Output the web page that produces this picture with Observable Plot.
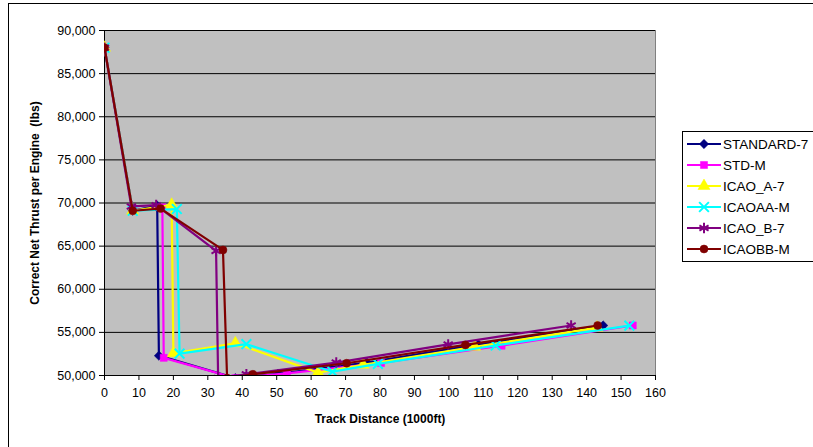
<!DOCTYPE html>
<html>
<head>
<meta charset="utf-8">
<script src="https://cdn.jsdelivr.net/npm/d3@7"></script>
<script src="https://cdn.jsdelivr.net/npm/@observablehq/plot@0.6"></script>
<style>
  html, body { margin: 0; padding: 0; background: #fff; }
  #wrap { position: relative; width: 813px; height: 447px; overflow: hidden; font-family: "Liberation Sans", Arial, sans-serif; }
  #border { position: absolute; left: 8px; top: 3px; width: 900px; height: 500px; border: 1.5px solid #000; box-sizing: border-box; pointer-events: none; }
  #legend { position: absolute; left: 682px; top: 131px; width: 140px; height: 131px; border: 1px solid #000; background: #fff; box-sizing: border-box; }
  .entry { position: absolute; left: 4px; height: 20px; display: flex; align-items: center; font-size: 13.5px; color: #000; white-space: nowrap; }
  .entry svg { margin-right: 2px; }
</style>
</head>
<body>
<div id="wrap">
  <div id="chart"></div>
  <div id="border"></div>
  <div id="legend"></div>
</div>
<script>
// ---- Data (track distance in 1000 ft, thrust in lbs) ----
const seriesNames = ["STANDARD-7", "STD-M", "ICAO_A-7", "ICAOAA-M", "ICAO_B-7", "ICAOBB-M"];

const standard7Dist   = [0, 8.2, 15.3, 15.8, 38, 50.4, 76.2, 108.6, 144.8];
const standard7Thrust = [88000, 69100, 69700, 52300, 49700, 50200, 51500, 53600, 55800];

const stdMDist   = [0, 8.2, 16.8, 17.2, 38, 53, 80.3, 115.3, 153.4];
const stdMThrust = [88000, 69100, 69500, 52050, 49700, 50250, 51450, 53450, 55800];

const icaoA7Dist   = [0, 8.2, 19.5, 20, 38, 62, 75.1, 107.5, 143];
const icaoA7Thrust = [88000, 69100, 69800, 52580, 53740, 50330, 51250, 53330, 55550];

const icaoAAMDist   = [0, 8.2, 21, 21.8, 41.2, 66.2, 79.4, 113.6, 152.4];
const icaoAAMThrust = [88000, 69100, 69300, 52530, 53630, 50440, 51350, 53480, 55780];

const icaoB7Dist   = [0, 7.8, 15, 32.4, 33, 41.2, 67.3, 99.8, 135.5];
const icaoB7Thrust = [88000, 69600, 69750, 64450, 49700, 50140, 51500, 53600, 55800];

const icaoBBMDist   = [0, 8.2, 16.3, 34.4, 35.6, 43.1, 70.3, 104.8, 143.2];
const icaoBBMThrust = [88000, 69100, 69350, 64560, 49700, 50140, 51420, 53550, 55800];

const xTicks = d3.range(0, 161, 10);
const yTicks = d3.range(50000, 90001, 5000);

// ---- Styles per series ----
const styles = {
  "STANDARD-7": {color: "#000080", symbol: "diamond2", filled: true, r: 4.2},
  "STD-M":      {color: "#FF00FF", symbol: "square",   filled: true, r: 4},
  "ICAO_A-7":   {color: "#FFFF00", symbol: "triangle", filled: true, r: 4.5},
  "ICAOAA-M":   {color: "#00FFFF", symbol: "times",    filled: false, r: 4.5},
  "ICAO_B-7":   {color: "#800080", symbol: "asterisk", filled: false, r: 5},
  "ICAOBB-M":   {color: "#800000", symbol: "circle",   filled: true, r: 4}
};

const seriesArrays = [
  [standard7Dist, standard7Thrust],
  [stdMDist, stdMThrust],
  [icaoA7Dist, icaoA7Thrust],
  [icaoAAMDist, icaoAAMThrust],
  [icaoB7Dist, icaoB7Thrust],
  [icaoBBMDist, icaoBBMThrust]
];

const tables = seriesNames.map((name, i) =>
  seriesArrays[i][0].map((d, j) => ({series: name, dist: d, thrust: seriesArrays[i][1][j]}))
);

const marks = [
  Plot.frame({fill: "#C0C0C0", stroke: "#808080"}),
  Plot.gridY(yTicks, {stroke: "#000", strokeOpacity: 1, strokeWidth: 1}),
  Plot.axisX({ticks: xTicks, tickSize: 5, tickPadding: 8, fontSize: 12.5, label: "Track Distance (1000ft)", labelAnchor: "center", labelOffset: 47, labelArrow: "none"}),
  Plot.axisY({ticks: yTicks, tickFormat: d3.format(","), tickSize: 5, tickPadding: 4, fontSize: 12.5, label: "Correct Net Thrust per Engine  (lbs)", labelAnchor: "center", labelOffset: 74, labelArrow: "none"}),
  Plot.ruleX([0], {stroke: "#000", strokeWidth: 1}),
  Plot.ruleY([50000], {stroke: "#000", strokeWidth: 1})
];

seriesNames.forEach((name, i) => {
  const s = styles[name];
  marks.push(Plot.line(tables[i], {x: "dist", y: "thrust", stroke: s.color, strokeWidth: 2.2, clip: true}));
  marks.push(Plot.dot(tables[i], {
    x: "dist", y: "thrust", symbol: () => s.symbol, r: s.r, clip: true,
    fill: s.filled ? s.color : "none",
    stroke: s.color, strokeWidth: s.filled ? 0.5 : 2
  }));
});

const chart = Plot.plot({
  width: 813,
  height: 447,
  marginLeft: 104,
  marginRight: 158,
  marginTop: 30,
  marginBottom: 72,
  style: {fontFamily: "'Liberation Sans', Arial, sans-serif", fontSize: "12.5px", background: "transparent", color: "#000"},
  x: {domain: [0, 160]},
  y: {domain: [50000, 90000]},
  symbol: {type: "identity"},
  marks
});
document.getElementById("chart").appendChild(chart);

// Bold axis titles
chart.querySelectorAll("[aria-label='x-axis label'] text, [aria-label='y-axis label'] text").forEach(t => {
  t.setAttribute("font-weight", "bold");
  t.setAttribute("font-size", "12");
});

// ---- Legend ----
const legend = document.getElementById("legend");
seriesNames.forEach((name, i) => {
  const s = styles[name];
  const div = document.createElement("div");
  div.className = "entry";
  div.style.top = (2 + i * 21) + "px";
  const svg = d3.create("svg").attr("width", 34).attr("height", 14);
  svg.append("line").attr("x1", 0).attr("x2", 34).attr("y1", 7).attr("y2", 7)
    .attr("stroke", s.color).attr("stroke-width", 2.2);
  const symMap = {diamond2: d3.symbolDiamond2, square: d3.symbolSquare, triangle: d3.symbolTriangle,
    times: d3.symbolTimes, asterisk: d3.symbolAsterisk, circle: d3.symbolCircle};
  const area = Math.PI * s.r * s.r;
  svg.append("path").attr("d", d3.symbol(symMap[s.symbol], area)())
    .attr("transform", "translate(17,7)")
    .attr("fill", s.filled ? s.color : "none")
    .attr("stroke", s.color).attr("stroke-width", s.filled ? 0.5 : 2);
  div.appendChild(svg.node());
  const span = document.createElement("span");
  span.textContent = name;
  div.appendChild(span);
  legend.appendChild(div);
});
</script>
</body>
</html>
